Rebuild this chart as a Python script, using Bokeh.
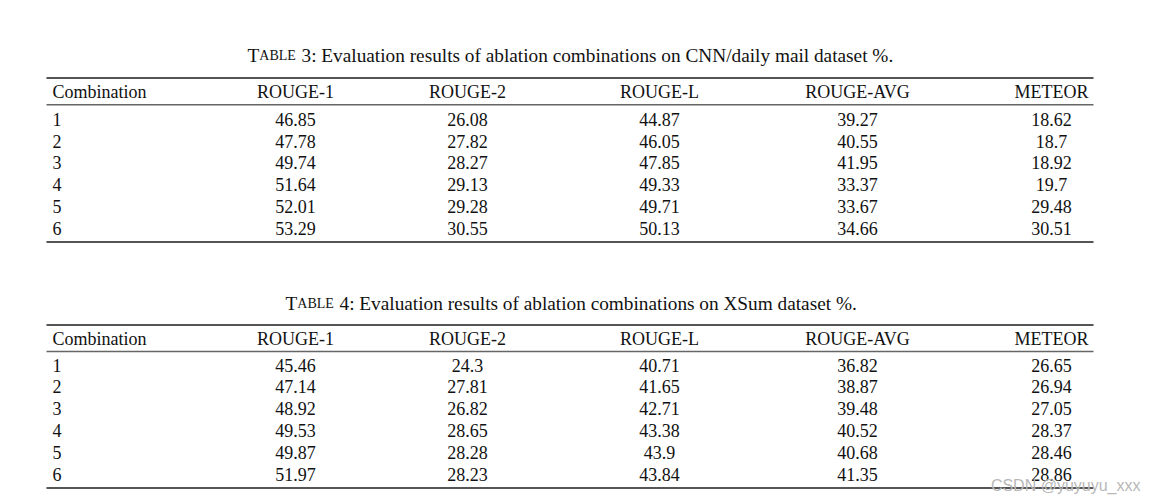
from bokeh.plotting import figure
from bokeh.models import Range1d, ColumnDataSource
from bokeh.core.properties import value
from bokeh.embed import file_html
from bokeh.resources import INLINE

# ---------------- data ----------------
headers = ["Combination", "ROUGE-1", "ROUGE-2", "ROUGE-L", "ROUGE-AVG", "METEOR"]
combinations = ["1", "2", "3", "4", "5", "6"]

cnn_rouge1 = [46.85, 47.78, 49.74, 51.64, 52.01, 53.29]
cnn_rouge2 = [26.08, 27.82, 28.27, 29.13, 29.28, 30.55]
cnn_rougeL = [44.87, 46.05, 47.85, 49.33, 49.71, 50.13]
cnn_rouge_avg = [39.27, 40.55, 41.95, 33.37, 33.67, 34.66]
cnn_meteor = [18.62, 18.7, 18.92, 19.7, 29.48, 30.51]

xsum_rouge1 = [45.46, 47.14, 48.92, 49.53, 49.87, 51.97]
xsum_rouge2 = [24.3, 27.81, 26.82, 28.65, 28.28, 28.23]
xsum_rougeL = [40.71, 41.65, 42.71, 43.38, 43.9, 43.84]
xsum_rouge_avg = [36.82, 38.87, 39.48, 40.52, 40.68, 41.35]
xsum_meteor = [26.65, 26.94, 27.05, 28.37, 28.46, 28.86]

title3 = ("3", "3: Evaluation results of ablation combinations on CNN/daily mail dataset %.")
title4 = ("4", "4: Evaluation results of ablation combinations on XSum dataset %.")

# ---------------- layout ----------------
W, H = 1156, 502
TB = 6.5  # correction for alphabetic baseline placement
FONT = value("Liberation Serif")
SIZE = "18px"
INK = "#111111"
RULE = "#555555"

p = figure(width=W, height=H, output_backend="svg", toolbar_location=None,
           x_range=Range1d(0, W), y_range=Range1d(H, 0),
           min_border=0, outline_line_color=None)
p.axis.visible = False
p.grid.visible = False
p.background_fill_color = "white"
p.border_fill_color = "white"

col_x = [52, 295, 467, 659, 857, 1051]
col_align = ["left", "center", "center", "center", "center", "center"]
x_left, x_right = 46, 1093


def ty(v):
    return v - TB


def draw_table(title, title_x, title_base, top_rule, header_base, mid_rule,
               first_base, step, bottom_rule, cols):
    # title with small caps "TABLE"
    p.text(x=[title_x], y=[ty(title_base)], text=["T"], text_font=FONT,
           text_font_size="19.3px", text_color=INK, text_align="left",
           text_baseline="alphabetic")
    p.text(x=[title_x + 11.8], y=[ty(title_base)], text=["ABLE"], text_font=FONT,
           text_font_size="14px", text_color=INK, text_align="left",
           text_baseline="alphabetic")
    p.text(x=[title_x + 54], y=[ty(title_base)], text=[title[1]], text_font=FONT,
           text_font_size="19.3px", text_color=INK, text_align="left",
           text_baseline="alphabetic")
    # rules
    p.segment(x0=[x_left] * 2, x1=[x_right] * 2,
              y0=[top_rule, bottom_rule], y1=[top_rule, bottom_rule],
              line_color=RULE, line_width=1.8)
    p.segment(x0=[x_left], x1=[x_right], y0=[mid_rule], y1=[mid_rule],
              line_color="#666666", line_width=1.6)
    # header
    for hx, ha, h in zip(col_x, col_align, headers):
        p.text(x=[hx], y=[ty(header_base)], text=[h], text_font=FONT,
               text_font_size=SIZE, text_color=INK, text_align=ha,
               text_baseline="alphabetic")
    # body
    ys = [ty(first_base + i * step) for i in range(len(combinations))]
    for cx, ca, col in zip(col_x, col_align, cols):
        src = ColumnDataSource(dict(x=[cx] * len(col), y=ys,
                                    t=[str(v) for v in col]))
        p.text(x="x", y="y", text="t", source=src, text_font=FONT,
               text_font_size=SIZE, text_color=INK, text_align=ca,
               text_baseline="alphabetic")


draw_table(title3, 247, 61.7, 77.5, 97.7, 104.3, 125.2, 21.8, 241.5,
           [combinations, cnn_rouge1, cnn_rouge2, cnn_rougeL, cnn_rouge_avg, cnn_meteor])
draw_table(title4, 285, 309.7, 324.5, 345.0, 351.0, 371.0, 21.9, 487.5,
           [combinations, xsum_rouge1, xsum_rouge2, xsum_rougeL, xsum_rouge_avg, xsum_meteor])

# watermark
p.text(x=[1140], y=[485], text=["CSDN @yuyuyu_xxx"],
       text_font=value("Liberation Sans"), text_font_size="16px",
       text_color="#b8b8b8", text_align="right", text_baseline="middle")

open("out.html", "w").write(file_html(p, INLINE))
